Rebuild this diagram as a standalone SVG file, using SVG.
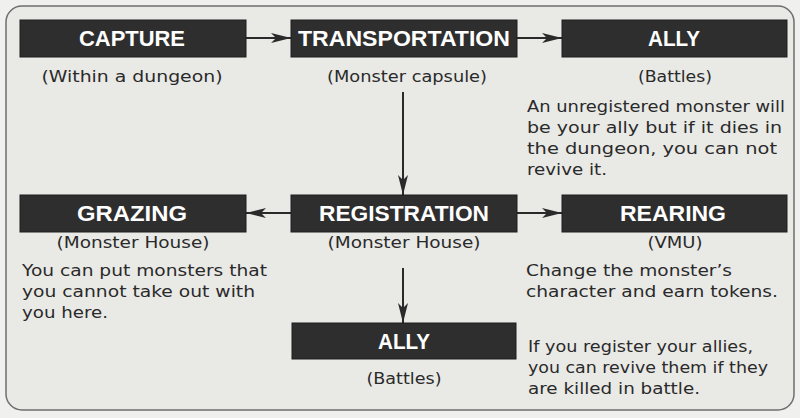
<svg xmlns="http://www.w3.org/2000/svg" width="800" height="418" viewBox="0 0 800 418">
<defs>
<style>
.box{fill:#2e2e2e;stroke:#1e1e1e;stroke-width:1}
.title{font-family:"Liberation Sans",Arial,sans-serif;font-weight:bold;font-size:22px;fill:#ffffff;text-anchor:middle}
.body{font-family:"DejaVu Sans","Liberation Sans",sans-serif;font-size:16.5px;fill:#2a2a2a}
.mid{text-anchor:middle}
.conn{stroke:#2a2a2a;stroke-width:2;fill:none}
</style>
<marker id="ah" viewBox="0 0 20 10" refX="20" refY="5" markerWidth="20" markerHeight="10" markerUnits="userSpaceOnUse" orient="auto">
<path d="M0,0 L20,5 L0,10 L5,5 Z" fill="#2a2a2a"/>
</marker>
</defs>
<rect x="0" y="0" width="800" height="418" fill="#f0f0ee"/>
<rect x="6" y="6" width="788" height="404" rx="16" ry="16" fill="#e9e9e6" stroke="#6e6e6e" stroke-width="1.5"/>

<g id="connectors">
<line class="conn" x1="246" y1="38" x2="291" y2="38" marker-end="url(#ah)"/>
<line class="conn" x1="517" y1="38" x2="562" y2="38" marker-end="url(#ah)"/>
<line class="conn" x1="403" y1="92" x2="403" y2="195" marker-end="url(#ah)"/>
<line class="conn" x1="291" y1="213" x2="246" y2="213" marker-end="url(#ah)"/>
<line class="conn" x1="517" y1="213" x2="562" y2="213" marker-end="url(#ah)"/>
<line class="conn" x1="403" y1="268" x2="403" y2="323" marker-end="url(#ah)"/>
</g>

<g id="capture">
<rect class="box" x="20" y="20" width="226" height="37"/>
<text class="title" x="132" y="46" textLength="106" lengthAdjust="spacingAndGlyphs">CAPTURE</text>
<text class="body mid" x="132" y="82" textLength="181" lengthAdjust="spacingAndGlyphs">(Within a dungeon)</text>
</g>

<g id="transportation">
<rect class="box" x="291" y="20" width="226" height="37"/>
<text class="title" x="404" y="46" textLength="212" lengthAdjust="spacingAndGlyphs">TRANSPORTATION</text>
<text class="body mid" x="407" y="82" textLength="160" lengthAdjust="spacingAndGlyphs">(Monster capsule)</text>
</g>

<g id="ally-top">
<rect class="box" x="562" y="20" width="225" height="37"/>
<text class="title" x="674" y="46" textLength="52" lengthAdjust="spacingAndGlyphs">ALLY</text>
<text class="body mid" x="675" y="82" textLength="74" lengthAdjust="spacingAndGlyphs">(Battles)</text>
<text class="body" x="527" y="112" textLength="258" lengthAdjust="spacingAndGlyphs">An unregistered monster will</text>
<text class="body" x="527" y="133" textLength="255" lengthAdjust="spacingAndGlyphs">be your ally but if it dies in</text>
<text class="body" x="527" y="154" textLength="250" lengthAdjust="spacingAndGlyphs">the dungeon, you can not</text>
<text class="body" x="527" y="175" textLength="80" lengthAdjust="spacingAndGlyphs">revive it.</text>
</g>

<g id="grazing">
<rect class="box" x="20" y="195" width="226" height="37"/>
<text class="title" x="132" y="221" textLength="110" lengthAdjust="spacingAndGlyphs">GRAZING</text>
<text class="body mid" x="133" y="248" textLength="153" lengthAdjust="spacingAndGlyphs">(Monster House)</text>
<text class="body" x="22" y="276" textLength="245" lengthAdjust="spacingAndGlyphs">You can put monsters that</text>
<text class="body" x="22" y="297" textLength="233" lengthAdjust="spacingAndGlyphs">you cannot take out with</text>
<text class="body" x="22" y="318" textLength="86" lengthAdjust="spacingAndGlyphs">you here.</text>
</g>

<g id="registration">
<rect class="box" x="291" y="195" width="226" height="37"/>
<text class="title" x="404" y="221" textLength="170" lengthAdjust="spacingAndGlyphs">REGISTRATION</text>
<text class="body mid" x="404" y="248" textLength="153" lengthAdjust="spacingAndGlyphs">(Monster House)</text>
</g>

<g id="rearing">
<rect class="box" x="562" y="195" width="225" height="37"/>
<text class="title" x="673" y="221" textLength="106" lengthAdjust="spacingAndGlyphs">REARING</text>
<text class="body mid" x="675" y="248" textLength="55" lengthAdjust="spacingAndGlyphs">(VMU)</text>
<text class="body" x="526" y="276" textLength="206" lengthAdjust="spacingAndGlyphs">Change the monster’s</text>
<text class="body" x="526" y="297" textLength="252" lengthAdjust="spacingAndGlyphs">character and earn tokens.</text>
</g>

<g id="ally-bottom">
<rect class="box" x="292" y="323" width="224" height="36"/>
<text class="title" x="404" y="349" textLength="52" lengthAdjust="spacingAndGlyphs">ALLY</text>
<text class="body mid" x="404" y="384" textLength="75" lengthAdjust="spacingAndGlyphs">(Battles)</text>
<text class="body" x="528" y="352" textLength="225" lengthAdjust="spacingAndGlyphs">If you register your allies,</text>
<text class="body" x="528" y="373" textLength="240" lengthAdjust="spacingAndGlyphs">you can revive them if they</text>
<text class="body" x="528" y="394" textLength="172" lengthAdjust="spacingAndGlyphs">are killed in battle.</text>
</g>
</svg>
